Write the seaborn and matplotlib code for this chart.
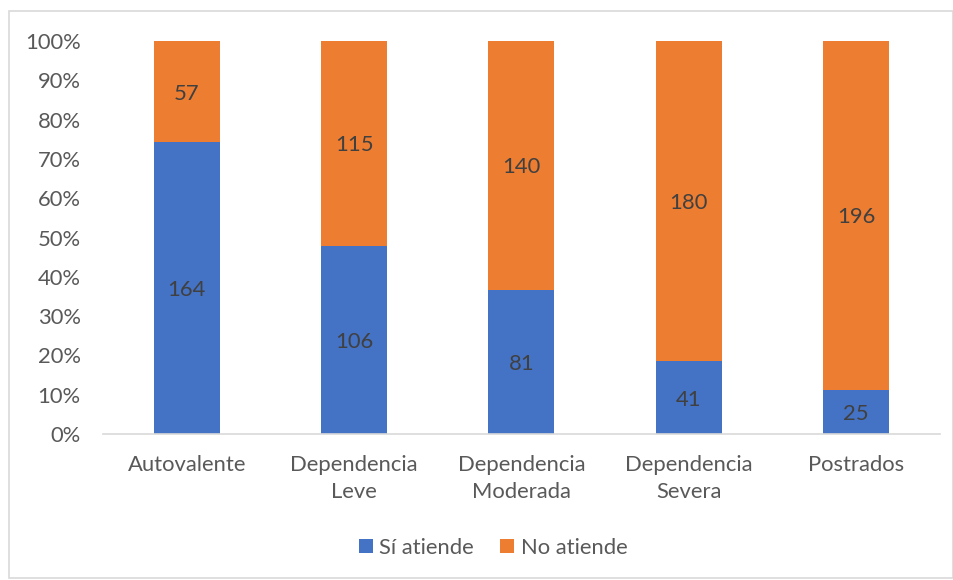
import matplotlib
matplotlib.use("Agg")
import matplotlib.pyplot as plt
from matplotlib.patches import Rectangle, Patch
import seaborn as sns
import pandas as pd
import numpy as np

categories = ["Autovalente", "Dependencia\nLeve", "Dependencia\nModerada",
              "Dependencia\nSevera", "Postrados"]
si_atiende = [164, 106, 81, 41, 25]
no_atiende = [57, 115, 140, 180, 196]
yticks = [0, 10, 20, 30, 40, 50, 60, 70, 80, 90, 100]

BLUE = "#4472C4"
ORANGE = "#ED7D31"
TEXT = "#595959"
LABEL = "#404040"
FS = 15.8

sns.set_theme(style="white")
plt.rcParams["font.family"] = ["Lato", "DejaVu Sans"]

si = np.array(si_atiende, dtype=float)
no = np.array(no_atiende, dtype=float)
total = si + no
si_pct = si / total * 100
df = pd.DataFrame({"cat": categories, "si": si_pct, "full": 100.0})

fig = plt.figure(figsize=(9.54, 5.8), dpi=100)
ax = fig.add_axes([0.108, 0.2517, 0.877, 0.6776])

sns.barplot(data=df, x="cat", y="full", color=ORANGE, saturation=1,
            width=0.395, ax=ax, edgecolor="none")
sns.barplot(data=df, x="cat", y="si", color=BLUE, saturation=1,
            width=0.395, ax=ax, edgecolor="none")

for i, (s, n, p) in enumerate(zip(si_atiende, no_atiende, si_pct)):
    ax.text(i, p / 2, str(s), ha="center", va="center_baseline", fontsize=FS, color=LABEL)
    ax.text(i, (p + 100) / 2, str(n), ha="center", va="center_baseline", fontsize=FS, color=LABEL)

ax.set_xlim(-0.5, len(categories) - 0.5)
ax.set_ylim(0, 100)
ax.set_yticks(yticks)
ax.set_yticklabels([f"{t}%" for t in yticks])
ax.set_xlabel("")
ax.set_ylabel("")
ax.tick_params(axis="y", labelsize=FS, labelcolor=TEXT, length=0, pad=16)
ax.tick_params(axis="x", labelsize=FS, labelcolor=TEXT, length=0, pad=15)
for lab in ax.get_xticklabels():
    lab.set_linespacing(1.45)
for side in ["left", "right", "top"]:
    ax.spines[side].set_visible(False)
ax.spines["bottom"].set_color("#D9D9D9")
ax.spines["bottom"].set_linewidth(1.2)

handles = [Patch(facecolor=BLUE, edgecolor="none", label="Sí atiende"),
           Patch(facecolor=ORANGE, edgecolor="none", label="No atiende")]
leg = fig.legend(handles=handles, loc="center", bbox_to_anchor=(0.517, 0.055),
                 ncol=2, frameon=False, fontsize=FS, handlelength=0.62,
                 handleheight=0.62, handletextpad=0.3, columnspacing=1.2)
for t in leg.get_texts():
    t.set_color(TEXT)

fig.patches.append(Rectangle((0.009, 0.003), 0.99, 0.978, transform=fig.transFigure,
                             fill=False, edgecolor="#D9D9D9", linewidth=1.2))

fig.savefig("out.png", dpi=100, facecolor="white")
